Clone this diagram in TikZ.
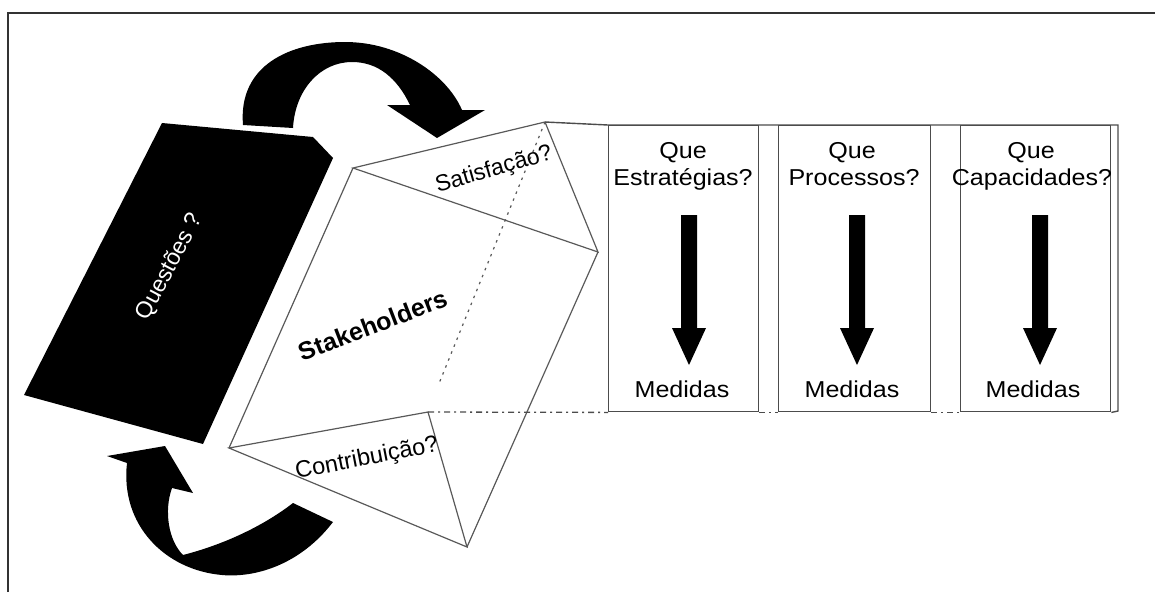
\documentclass[tikz,border=0pt]{standalone}
\usepackage{fontspec}
\setmainfont{Liberation Sans}
\begin{document}
\begin{tikzpicture}[x=1pt,y=-1pt,
  frame/.style={draw=black!80, line width=2pt},
  edge/.style={draw=black!65, line width=1.2pt},
  hidden/.style={draw=black!65, line width=1.2pt, dash pattern=on 2.5pt off 5pt},
  link/.style={draw=black!70, line width=1.3pt, dash pattern=on 6pt off 4pt on 2pt off 4pt},
  panel/.style={draw=black!70, line width=1.4pt, minimum height=286pt, anchor=north west, inner sep=0pt},
  lbl/.style={inner sep=0pt},
  txt/.style={inner sep=0pt, anchor=base, xscale=1.09, font=\fontsize{23}{27}\selectfont},
]
\useasboundingbox (0,0) rectangle (1155,592);
\draw[frame] (8,592) -- (8,13) -- (1155,13);

% dark card with the question
\fill (162,123) -- (313,137) -- (333,158) -- (203,444) -- (24,395) -- cycle;
\node[lbl, text=white, rotate=62, font=\fontsize{23}{27}\selectfont] (quest) at (170,267) {Questões ?};

% upper curved arrow
\fill (243,125) .. controls (238,65) and (290,42) .. (345,42)
  .. controls (400,42) and (447,75) .. (462,110) -- (485,110) -- (437,138)
  -- (387,105) -- (410,105) .. controls (397,78) and (378,62) .. (352,62)
  .. controls (320,62) and (295,90) .. (293,128) -- cycle;

% lower curved arrow
\fill (293,503) -- (333,522) .. controls (300,565) and (255,578) .. (222,575)
  .. controls (165,570) and (120,525) .. (127,463) -- (107,456) -- (165,446)
  -- (193,493) -- (172,488) .. controls (164,510) and (168,540) .. (183,555)
  .. controls (222,545) and (262,527) .. (293,503) -- cycle;

% prism of stakeholders
\coordinate (t1) at (545,122);
\coordinate (t2) at (353,168);
\coordinate (t3) at (598,252);
\coordinate (b1) at (428,412);
\coordinate (b2) at (229,448);
\coordinate (b3) at (467,547);
\coordinate (hid) at (438,386);
\draw[edge] (t1) -- (t2) -- (t3) -- cycle;
\draw[edge] (b1) -- (b2) -- (b3) -- cycle;
\draw[edge] (t2) -- (b2);
\draw[edge] (t3) -- (b3);
\draw[hidden] (t1) -- (hid);

\node[lbl, rotate=16, font=\fontsize{23}{27}\selectfont] (sat) at (494,170) {Satisfação?};
\node[lbl, rotate=11, font=\fontsize{23.5}{27}\selectfont] (contr) at (367,459) {Contribuição?};
\node[lbl, rotate=21, font=\fontsize{25}{29}\bfseries\selectfont] (stake) at (373,325) {Stakeholders};

% three panels
\node[panel, minimum width=150pt] (s1) at (608,125) {};
\node[panel, minimum width=152pt] (s2) at (778,125) {};
\node[panel, minimum width=150pt] (s3) at (960,125) {};
\coordinate (rt) at (1118,125);
\coordinate (rb) at (1118,411);
\draw[panel] (t1) -- (s1.north west) -- (rt) -- (rb) -- (s3.south east);
\draw[link] (b1) -- (s1.south west);
\draw[link] (s1.south east) -- (s2.south west);
\draw[link] (s2.south east) -- (s3.south west);

\node[txt] (q1) at (683,158) {Que};
\node[txt] (e1) at (683,185) {Estratégias?};
\node[txt] (m1) at (682,397) {Medidas};
\node[txt] (q2) at (852,158) {Que};
\node[txt] (e2) at (854,185) {Processos?};
\node[txt] (m2) at (852,397) {Medidas};
\node[txt] (q3) at (1031,158) {Que};
\node[txt] (e3) at (1032,185) {Capacidades?};
\node[txt] (m3) at (1033,397) {Medidas};

% downward arrows inside the panels
\foreach \c in {689,857,1040} {
  \fill (\c-8,215) -- (\c+8,215) -- (\c+8,328) -- (\c+17,328) -- (\c,365)
    -- (\c-17,328) -- (\c-8,328) -- cycle;
}
\end{tikzpicture}
\end{document}
